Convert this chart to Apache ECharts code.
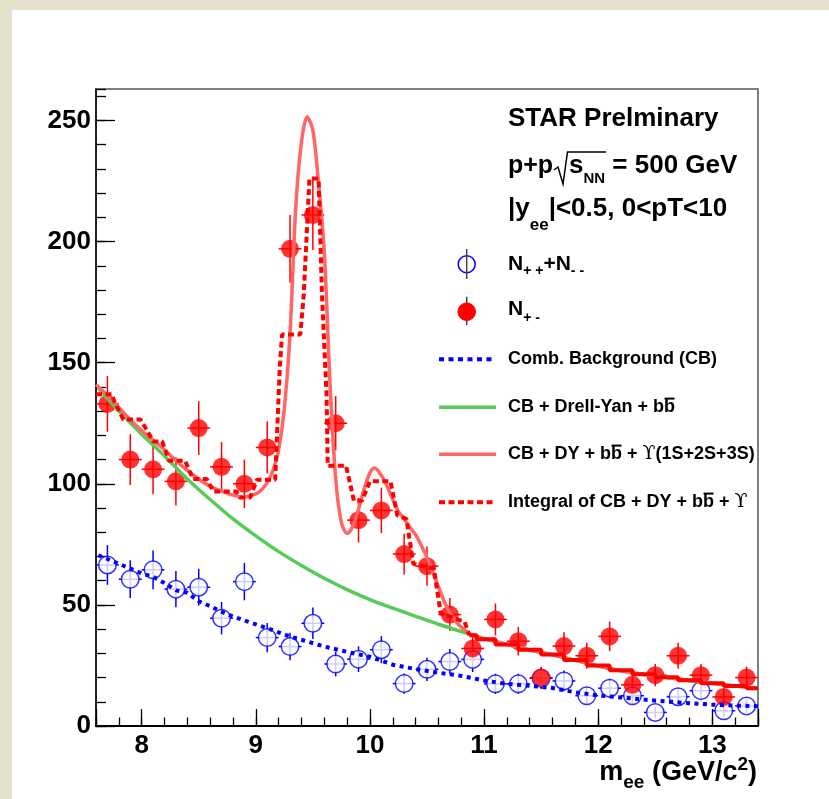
<!DOCTYPE html>
<html><head><meta charset="utf-8">
<script src="https://cdn.jsdelivr.net/npm/echarts@6/dist/echarts.min.js"></script>
<style>
html,body{margin:0;padding:0;background:#e3e0cc;width:829px;height:799px;overflow:hidden}
#chart{position:absolute;left:12px;top:10px;width:817px;height:789px;}
</style></head><body><div id="chart"></div>
<script>
// ---------------- data ----------------
const binCenters = [7.7,7.9,8.1,8.3,8.5,8.7,8.9,9.1,9.3,9.5,9.7,9.9,10.1,10.3,10.5,10.7,10.9,11.1,11.3,11.5,11.7,11.9,12.1,12.3,12.5,12.7,12.9,13.1,13.3];
const binHalfWidth = 0.1;
// N+- (unlike sign)
const unlikeSign    = [133,110,106,101,123,107,100,115,197,211,125,85,89,71,66,46,32,44,35,20,33,29,37,17,21,29,21,12,20];
const unlikeSignErr = [11.5,10.5,10.3,10.0,11.1,10.3,10.0,10.7,14.0,14.5,11.2,9.2,9.4,8.4,8.1,6.8,5.7,6.6,5.9,4.5,5.7,5.4,6.1,4.1,4.6,5.4,4.6,3.5,4.5];
// N++ + N-- (like sign)
const likeSign    = [66.5,60.6,64.5,56.5,57.3,44.5,59.6,36.5,32.8,42.4,25.6,27.6,31.5,17.5,23.4,26.6,27.5,17.4,17.4,19.7,18.6,12.5,15.6,12.5,5.6,12.1,14.6,6.3,8.3];
const likeSignErr = [8.2,7.8,8.0,7.5,7.6,6.7,7.7,6.0,5.7,6.5,5.1,5.3,5.6,4.2,4.8,5.2,5.2,4.2,4.2,4.4,4.3,3.5,3.9,3.5,2.4,3.5,3.8,2.5,2.9];

// Comb. Background (CB)
const cbX = [7.62,7.8,8.0,8.1,8.2,8.3,8.4,8.5,8.6,8.7,8.8,9.0,9.1,9.3,9.4,9.6,9.8,10.0,10.2,10.4,10.6,10.8,11.0,11.2,11.4,11.6,11.8,12.0,12.2,12.4,12.6,12.8,13.0,13.2,13.4];
const cbY = [70.5,67,63,61.6,59,56,55,51.5,49.5,47.2,45.2,42,40.4,36.9,35.6,32.8,30.6,28.6,25.3,23.5,22,20.7,18.8,17.4,16.6,15.7,13.9,12.6,11.8,10.9,10.1,9.4,8.8,8.4,8.2];

// CB + Drell-Yan + bb
const dyX = [7.62,7.8,8.0,8.2,8.4,8.6,8.8,9.0,9.2,9.4,9.6,9.8,10.0,10.2,10.4,10.6,10.8,11.0,11.2,11.4,11.6,11.8,12.0,12.2,12.4,12.6,12.8,13.0,13.2,13.4];
const dyY = [139.5,130,120.5,111.5,102,93.5,85.5,78.5,72,66.3,61,56.3,52.2,48.7,45.3,42,39,36.2,33.7,31.4,29.4,27.1,24.8,22.8,21.3,20.0,18.8,17.6,16.5,15.5];

// CB + DY + bb + Upsilon(1S+2S+3S)
const fullX = [7.6,7.7,7.8,7.9,8.0,8.1,8.2,8.3,8.4,8.5,8.6,8.7,8.8,8.9,9.0,9.05,9.1,9.15,9.2,9.25,9.3,9.35,9.4,9.45,9.5,9.55,9.6,9.65,9.7,9.75,9.8,9.85,9.9,9.95,10.0,10.04,10.1,10.15,10.2,10.25,10.3,10.35,10.4,10.45,10.5,10.55,10.6,10.65,10.7,10.75,10.8,10.9,11.0,11.2,11.4,11.6,11.8,12.0,12.2,12.4,12.6,12.8,13.0,13.2,13.4];
const fullY = [141,136.5,131.5,126.5,122,118,114,109.5,105.5,102,99,97,95.3,94.5,95.8,97.5,100.5,105.5,114,131,162,214,241,251.5,246,224,196,142,102,84,79.5,82.5,89.5,98,104.5,106.5,103.5,99,93.5,88.5,85.5,82,79,74.5,69.5,63.5,57.5,51.5,46.8,43.3,40.8,37.3,36,33.7,31.4,29.4,27.1,24.8,22.8,21.3,20.0,18.8,17.6,16.5,15.5];

// Integral of CB + DY + bb + Upsilon (step outline)
const intX = [7.6,7.74,7.76,7.84,7.99,8.06,8.10,8.18,8.24,8.38,8.45,8.57,8.63,8.83,8.86,8.95,9.01,9.17,9.21,9.23,9.39,9.42,9.47,9.55,9.58,9.62,9.63,9.79,9.86,9.93,10.0,10.18,10.24,10.32,10.38,10.56,10.62,10.83,10.87];
const intY = [137,137,134,126.5,126.5,121,117.5,117.5,109.5,109.5,102,102,96.8,96.8,94.3,94.3,101.7,101.7,148,161.6,161.6,178,226,226,178,137,107.5,107.5,93,93,101,101,87,85.5,67,65,46.5,43,37.5];
const intTailX = [10.87,11.0,11.2,11.4,11.6,11.8,12.0,12.2,12.4,12.6,12.8,13.0,13.2,13.4];
const intTailY = [37.5,35.8,33.6,31.5,29.5,27.3,25,23,21.4,20.1,18.9,17.7,16.5,15.6];

const xTickLabels = ['8','9','10','11','12','13'];
const yTickLabels = ['0','50','100','150','200','250'];

// ---------------- layout helpers ----------------
const OX = 12, OY = 10;
const SANS = '"Liberation Sans", Arial, Helvetica, sans-serif';
const SERIF = '"DejaVu Serif", "Liberation Serif", serif';
const mctx = document.createElement('canvas').getContext('2d');
function tw(t, size, fam, wt) { mctx.font = wt + ' ' + size + 'px ' + fam; return mctx.measureText(t).width; }
function run(x0, base, parts, anchor) {
  const ws = parts.map(p => tw(p.t, p.s, p.f || SANS, p.w || 'bold'));
  const total = ws.reduce((a, b) => a + b, 0);
  let x = anchor === 'right' ? x0 - total : x0;
  const els = [], xs = [];
  parts.forEach((p, i) => {
    const fam = p.f || SANS, wt = p.w || 'bold';
    const b = base + (p.dy || 0);
    xs.push(x);
    els.push({type: 'text', silent: true, x: x - OX, y: b - 0.3465 * p.s - OY,
      style: {text: p.t, fontSize: p.s, fontFamily: fam, fontWeight: wt, fill: '#000', align: 'left', verticalAlign: 'middle'}});
    if (p.over) {
      const oy = b - 0.84 * p.s - OY;
      els.push({type: 'line', silent: true, shape: {x1: x - OX + 0.5, y1: oy, x2: x + ws[i] - OX - 0.5, y2: oy}, style: {stroke: '#000', lineWidth: 2}});
    }
    x += ws[i];
  });
  xs.push(x);
  return {els, xs};
}
function seg(x1, y1, x2, y2, style) {
  return {type: 'line', silent: true, shape: {x1: x1 - OX, y1: y1 - OY, x2: x2 - OX, y2: y2 - OY}, style};
}

const graphics = [];
// header text
graphics.push(...run(508, 128, [{t: 'STAR Prelminary', s: 26}]).els);
graphics.push(...run(508, 175, [{t: 'p+p', s: 25}]).els);
const l2 = run(569, 175, [{t: 's', s: 26}, {t: 'NN', s: 15, dy: 9}, {t: ' = 500 GeV', s: 26}]);
graphics.push(...l2.els);
graphics.push({type: 'polyline', silent: true, shape: {points: [[554 - OX, 170 - OY], [558 - OX, 167 - OY], [563 - OX, 184 - OY], [567.5 - OX, 152 - OY], [l2.xs[2] + 1 - OX, 152 - OY]]}, style: {stroke: '#000', lineWidth: 1.5, fill: null}});
graphics.push(...run(508, 218.3, [{t: '|y', s: 26}, {t: 'ee', s: 17, dy: 13.4}, {t: '|<0.5, 0<pT<10', s: 26}]).els);

// legend: markers
graphics.push({type: 'circle', silent: true, shape: {cx: 466.7 - OX, cy: 264.3 - OY, r: 8.5}, style: {fill: '#fff', stroke: '#0000ff', lineWidth: 1.5}});
graphics.push(seg(466.7, 249, 466.7, 279, {stroke: '#444', lineWidth: 1.5}));
graphics.push(seg(466.7, 296.7, 466.7, 325, {stroke: '#444', lineWidth: 1.5}));
graphics.push({type: 'circle', silent: true, shape: {cx: 466.7 - OX, cy: 311.7 - OY, r: 8.8}, style: {fill: '#ff0000', stroke: '#ff0000', lineWidth: 1}});
graphics.push(...run(508, 271, [{t: 'N', s: 21}, {t: '+ +', s: 14, dy: 5}, {t: '+N', s: 21}, {t: '- -', s: 14, dy: 5}]).els);
graphics.push(...run(508, 316.7, [{t: 'N', s: 21}, {t: '+ -', s: 14, dy: 6}]).els);
// legend: lines
graphics.push(seg(439, 359.3, 496, 359.3, {stroke: '#0000ff', lineWidth: 4, lineDash: [5, 4.5]}));
graphics.push(seg(439, 407.3, 496, 407.3, {stroke: '#55cc55', lineWidth: 3.5}));
graphics.push(seg(439, 454.3, 496, 454.3, {stroke: '#ff6666', lineWidth: 3.5}));
graphics.push(seg(439, 502.3, 496, 502.3, {stroke: '#ff0000', lineWidth: 4, lineDash: [6, 3.5]}));
graphics.push(...run(508, 365.7, [{t: 'Comb. Background (CB)', s: 18}]).els);
graphics.push(...run(508, 413.7, [{t: 'CB + Drell-Yan + b', s: 18}, {t: 'b', s: 18, over: true}]).els);
graphics.push(...run(508, 460.7, [{t: 'CB + DY + b', s: 18}, {t: 'b', s: 18, over: true}, {t: ' + ', s: 18}, {t: 'ϒ', s: 19, f: SERIF, w: 'normal'}, {t: '(1S+2S+3S)', s: 18}]).els);
graphics.push(...run(508, 508.7, [{t: 'Integral of CB + DY + b', s: 18}, {t: 'b', s: 18, over: true}, {t: ' + ', s: 18}, {t: 'ϒ', s: 19, f: SERIF, w: 'normal'}]).els);
// axis title
graphics.push(...run(757, 782, [{t: 'm', s: 27}, {t: 'ee', s: 19, dy: 7}, {t: ' (GeV/c', s: 27}, {t: '2', s: 19, dy: -11}, {t: ')', s: 27}], 'right').els);

// ---------------- chart ----------------
const chart = echarts.init(document.getElementById('chart'), null, {renderer: 'canvas'});
const zip = (xs, ys) => xs.map((x, i) => [x, ys[i]]);
function errBars(vals, errs, color) {
  return {
    type: 'custom', z: 2, silent: true, clip: true,
    data: binCenters.map((x, i) => [x, vals[i], errs[i]]),
    encode: {x: 0, y: 1},
    renderItem: (params, api) => {
      const x = api.value(0), y = api.value(1), e = api.value(2);
      const top = api.coord([x, y + e]), bot = api.coord([x, y - e]);
      const l = api.coord([x - binHalfWidth, y]), r = api.coord([x + binHalfWidth, y]);
      return {type: 'group', children: [
        {type: 'line', shape: {x1: top[0], y1: top[1], x2: bot[0], y2: bot[1]}, style: {stroke: color, lineWidth: 1.5}},
        {type: 'line', shape: {x1: l[0], y1: l[1], x2: r[0], y2: r[1]}, style: {stroke: color, lineWidth: 1.5}}
      ]};
    }
  };
}
const axLabel = {fontSize: 26, fontWeight: 'bold', fontFamily: SANS, color: '#000'};
const isInt = v => Math.abs(v - Math.round(v)) < 1e-6;
const option = {
  backgroundColor: '#ffffff',
  animation: false,
  grid: {left: 84, top: 79, width: 662, height: 637, show: true, borderColor: '#555', borderWidth: 1.5, backgroundColor: 'transparent'},
  xAxis: [
    {type: 'value', min: 7.6, max: 13.4, interval: 0.2, position: 'bottom',
     axisLine: {show: true, onZero: false, lineStyle: {color: '#000', width: 2}},
     axisTick: {show: true, inside: true, length: 8.5, lineStyle: {color: '#000', width: 1.3}},
     axisLabel: Object.assign({margin: 7, formatter: v => (isInt(v) && xTickLabels.includes(String(Math.round(v)))) ? String(Math.round(v)) : ''}, axLabel),
     splitLine: {show: false}},
    {type: 'value', min: 7.6, max: 13.4, splitNumber: 5, position: 'bottom',
     axisLine: {show: false, onZero: false},
     axisTick: {show: true, inside: true, length: 17, lineStyle: {color: '#000', width: 1.3}},
     axisLabel: {show: false}, splitLine: {show: false}}
  ],
  yAxis: [
    {type: 'value', min: 0, max: 263, interval: 50, position: 'left',
     axisLine: {show: true, onZero: false, lineStyle: {color: '#000', width: 1.5}},
     axisTick: {show: true, inside: true, length: 19, lineStyle: {color: '#000', width: 1.3}},
     axisLabel: Object.assign({margin: 5, showMaxLabel: false, formatter: v => yTickLabels.includes(String(v)) ? String(v) : ''}, axLabel),
     splitLine: {show: false}},
    {type: 'value', min: 0, max: 263, interval: 10, position: 'left',
     axisLine: {show: false, onZero: false},
     axisTick: {show: true, inside: true, length: 10, lineStyle: {color: '#000', width: 1.3}},
     axisLabel: {show: false}, splitLine: {show: false}}
  ],
  series: [
    errBars(likeSign, likeSignErr, '#0000ff'),
    errBars(unlikeSign, unlikeSignErr, '#ff0000'),
    {type: 'scatter', z: 3, silent: true, symbol: 'circle', symbolSize: 17.5, data: zip(binCenters, likeSign),
     itemStyle: {color: '#ffffff', borderColor: '#0000ff', borderWidth: 1.5}},
    {type: 'scatter', z: 3, silent: true, symbol: 'circle', symbolSize: 18, data: zip(binCenters, unlikeSign),
     itemStyle: {color: '#ff0000', borderWidth: 0}},
    {type: 'line', z: 4, silent: true, showSymbol: false, symbol: 'none', smooth: 0.3, data: zip(dyX, dyY),
     lineStyle: {color: '#55cc55', width: 3.5}},
    {type: 'line', z: 4, silent: true, showSymbol: false, symbol: 'none', smooth: 0.3, data: zip(fullX, fullY),
     lineStyle: {color: '#ff6666', width: 3.5}},
    {type: 'line', z: 4, silent: true, showSymbol: false, symbol: 'none', data: zip(intX, intY),
     lineStyle: {color: '#ff0000', width: 4, type: [6, 3.5]}},
    {type: 'line', z: 4, silent: true, showSymbol: false, symbol: 'none', step: 'middle', data: zip(intTailX, intTailY),
     lineStyle: {color: '#ff0000', width: 4}},
    {type: 'line', z: 5, silent: true, showSymbol: false, symbol: 'none', data: zip(cbX, cbY),
     lineStyle: {color: '#0000ff', width: 4, type: [4, 4.5]}}
  ],
  graphic: {elements: graphics}
};
chart.setOption(option);
</script></body></html>
